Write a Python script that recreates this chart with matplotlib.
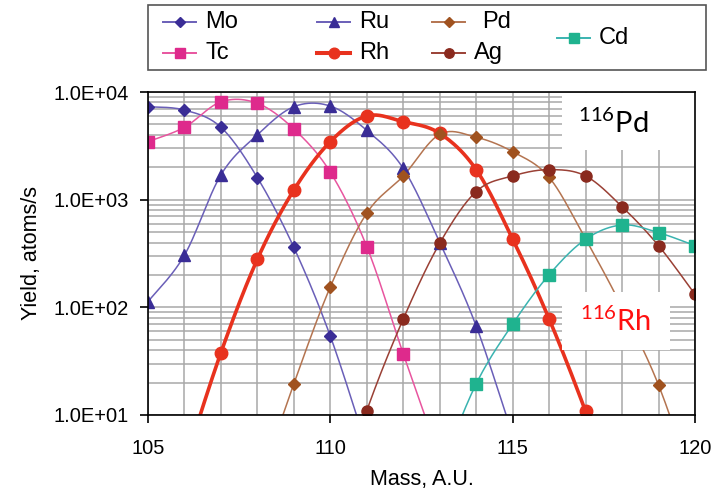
import numpy as np
import matplotlib
matplotlib.use('Agg')
from matplotlib import pyplot as plt
from matplotlib.lines import Line2D
from matplotlib.patches import Rectangle

plt.rcParams['font.family'] = ['Liberation Sans', 'DejaVu Sans']
plt.rcParams['mathtext.fontset'] = 'custom'
plt.rcParams['mathtext.rm'] = 'Lato'

# yields (atoms/s); values under 10 are only where the curves leave the axes
mo_mass = [105, 106, 107, 108, 109, 110, 111]
mo_yield = [7300, 6800, 4700, 1600, 360, 54, 5]
tc_mass = [105, 106, 107, 108, 109, 110, 111, 112, 113]
tc_yield = [3460, 4700, 8100, 7850, 4530, 1800, 366, 37, 4]
ru_mass = [105, 106, 107, 108, 109, 110, 111, 112, 113, 114, 115]
ru_yield = [113, 305, 1700, 4000, 7300, 7400, 4400, 1950, 400, 67, 6.5]
rh_mass = [106, 107, 108, 109, 110, 111, 112, 113, 114, 115, 116, 117, 118]
rh_yield = [3.5, 38, 280, 1230, 3460, 5990, 5300, 4130, 1900, 430, 78, 10.8, 1.2]
pd_mass = [108, 109, 110, 111, 112, 113, 114, 115, 116, 117, 118, 119, 120]
pd_yield = [2, 19.5, 155, 750, 1660, 4050, 3800, 2790, 1610, 430, 100, 19, 2]
ag_mass = [110, 111, 112, 113, 114, 115, 116, 117, 118, 119, 120]
ag_yield = [1, 11, 78, 394, 1190, 1660, 1900, 1660, 860, 374, 132]
cd_mass = [113, 114, 115, 116, 117, 118, 119, 120]
cd_yield = [3, 19.5, 70, 201, 429, 582, 494, 374]

x_ticks = [105, 110, 115, 120]
y_ticks = [1e1, 1e2, 1e3, 1e4]
y_tick_labels = ['1.0E+01', '1.0E+02', '1.0E+03', '1.0E+04']


def smooth(x, y, n=24):
    # catmull-rom through the points in log space, like Excel's smoothed line
    x = np.asarray(x, float)
    ly = np.log10(y)
    px = np.concatenate([[x[0]], x, [x[-1]]])
    py = np.concatenate([[ly[0]], ly, [ly[-1]]])
    xs, ys = [], []
    t = np.linspace(0, 1, n)
    for i in range(1, len(px) - 2):
        for p, out in ((px, xs), (py, ys)):
            p0, p1, p2, p3 = p[i - 1], p[i], p[i + 1], p[i + 2]
            out.extend(0.5 * (2 * p1 + (-p0 + p2) * t
                              + (2 * p0 - 5 * p1 + 4 * p2 - p3) * t ** 2
                              + (-p0 + 3 * p1 - 3 * p2 + p3) * t ** 3))
    return np.array(xs), 10 ** np.array(ys)


series = [
    ('Mo', mo_mass, mo_yield, '#6a5fb8', '#3a2d96', 'D', 6, 1.1),
    ('Tc', tc_mass, tc_yield, '#e8559f', '#de2a8c', 's', 8, 1.1),
    ('Ru', ru_mass, ru_yield, '#6a5fb8', '#3a2d96', '^', 8, 1.1),
    ('Rh', rh_mass, rh_yield, '#e8321e', '#e8321e', 'o', 9, 2.6),
    ('Pd', pd_mass, pd_yield, '#b47450', '#a0521f', 'D', 6, 1.1),
    ('Ag', ag_mass, ag_yield, '#9a4035', '#8a2a1e', 'o', 8, 1.1),
    ('Cd', cd_mass, cd_yield, '#3ab3b0', '#1fb38f', 's', 8, 1.1),
]

fig = plt.figure(figsize=(7.24, 4.91), dpi=100)
ax = fig.add_axes([148 / 724, 1 - 415 / 491, 547 / 724, 323 / 491])

for name, xm, ym, lc, mc, mk, ms, lw in series:
    sx, sy = smooth(xm, ym)
    ax.plot(sx, sy, color=lc, lw=lw, zorder=3)
    ax.plot(xm, ym, ls='none', marker=mk, ms=ms, color=mc, mec=mc, zorder=4)

ax.set_yscale('log')
ax.set_xlim(105, 120)
ax.set_ylim(1e1, 1e4)
ax.set_xticks(x_ticks)
ax.set_xticks(np.arange(105, 121), minor=True)
ax.set_yticks(y_ticks)
ax.set_yticklabels(y_tick_labels)
ax.set_xticklabels([str(v) for v in x_ticks])
ax.grid(True, which='both', color='#a8a8a8', lw=1.1, zorder=1)
ax.tick_params(which='major', direction='out', length=6, width=1.2, labelsize=14.5)
ax.tick_params(axis='y', pad=8)
ax.tick_params(axis='x', pad=11)
ax.tick_params(which='minor', length=0)
for s in ax.spines.values():
    s.set_linewidth(1.2)
    s.set_zorder(6)
ax.set_xlabel('Mass, A.U.', fontsize=15.5, labelpad=8)
ax.set_ylabel('Yield, atoms/s', fontsize=15.5, labelpad=8)

# white label boxes
ax.add_patch(Rectangle((0.757, 0.82), 0.243, 0.178, transform=ax.transAxes,
                       facecolor='white', edgecolor='none', zorder=5))
ax.text(0.85, 0.905, r'$^{\mathrm{116}}$Pd', transform=ax.transAxes, ha='center', va='center',
        fontsize=21, family='Lato', zorder=7)
ax.add_patch(Rectangle((0.757, 0.2), 0.197, 0.18, transform=ax.transAxes,
                       facecolor='white', edgecolor='none', zorder=5))
ax.text(0.855, 0.29, r'$^{\mathrm{116}}$Rh', transform=ax.transAxes, ha='center', va='center',
        fontsize=21, family='Lato', color='#ff1010', zorder=7)

# legend box, laid out like the Excel one
fig.patches.append(Rectangle((148 / 724, 1 - 70 / 491), 558 / 724, 65 / 491,
                             transform=fig.transFigure, facecolor='white',
                             edgecolor='#555555', lw=1.2))
leg_pos = {'Mo': (163, 22), 'Tc': (163, 53), 'Ru': (317, 22), 'Rh': (317, 53),
           'Pd': (432, 22), 'Ag': (432, 53), 'Cd': (557, 38)}
leg_gap = {'Pd': 50}
for name, xm, ym, lc, mc, mk, ms, lw in series:
    lx, ly = leg_pos[name]
    y = 1 - ly / 491
    fig.add_artist(Line2D([lx / 724, (lx + 33) / 724], [y, y], color=lc, lw=lw + 0.3,
                          transform=fig.transFigure))
    fig.add_artist(Line2D([(lx + 16.5) / 724], [y], marker=mk, ms=ms * 0.85, color=mc,
                          transform=fig.transFigure))
    fig.text((lx + leg_gap.get(name, 42)) / 724, y, name, fontsize=17, va='center', ha='left')

fig.savefig('out.png', dpi=100)
